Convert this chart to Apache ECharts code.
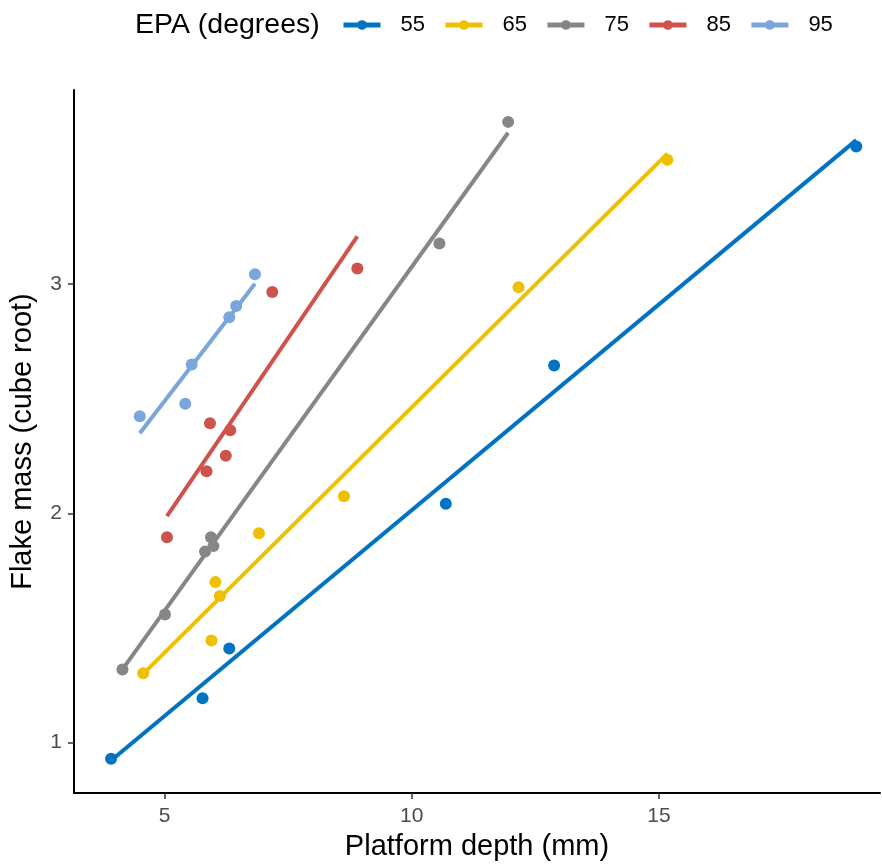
<!DOCTYPE html>
<html>
<head>
<meta charset="utf-8">
<title>Flake mass vs platform depth</title>
<script src="https://cdn.jsdelivr.net/npm/echarts@6/dist/echarts.min.js"></script>
<style>
  html, body { margin: 0; padding: 0; background: #fff; }
  #chart { width: 882px; height: 866px; }
</style>
</head>
<body>
<div id="chart"></div>
<script>
// Exterior platform angle groups (degrees)
const groups = ['55', '65', '75', '85', '95'];
const groupColors = ['#0073C2', '#EFC000', '#868686', '#CD534C', '#7AA6DC'];

// Platform depth (mm) per flake, by EPA group
const depth55 = [3.92, 5.77, 6.31, 10.69, 12.88, 18.99];
const depth65 = [4.57, 5.95, 6.12, 6.03, 6.91, 8.63, 12.16, 15.17];
const depth75 = [4.15, 5.01, 5.82, 5.99, 5.94, 10.56, 11.95];
const depth85 = [5.05, 5.92, 6.33, 6.24, 5.85, 7.18, 8.90];
const depth95 = [4.50, 5.42, 5.55, 6.31, 6.45, 6.83];

// Flake mass (cube root) per flake, by EPA group
const mass55 = [0.930, 1.194, 1.411, 2.042, 2.645, 3.600];
const mass65 = [1.303, 1.445, 1.639, 1.700, 1.913, 2.074, 2.986, 3.542];
const mass75 = [1.319, 1.559, 1.833, 1.857, 1.896, 3.177, 3.707];
const mass85 = [1.896, 2.393, 2.362, 2.251, 2.184, 2.965, 3.068];
const mass95 = [2.423, 2.478, 2.649, 2.855, 2.904, 3.043];

// Axis tick values
const xTicks = [5, 10, 15];
const yTicks = [1, 2, 3];

const depths = [depth55, depth65, depth75, depth85, depth95];
const masses = [mass55, mass65, mass75, mass85, mass95];

// Ordinary least-squares fit, evaluated across the group's depth range
function lmLine(xs, ys) {
  const n = xs.length;
  const mx = xs.reduce((a, b) => a + b, 0) / n;
  const my = ys.reduce((a, b) => a + b, 0) / n;
  let sxy = 0, sxx = 0;
  for (let i = 0; i < n; i++) {
    sxy += (xs[i] - mx) * (ys[i] - my);
    sxx += (xs[i] - mx) * (xs[i] - mx);
  }
  const b = sxy / sxx;
  const a = my - b * mx;
  const lo = Math.min(...xs), hi = Math.max(...xs);
  return [[lo, a + b * lo], [hi, a + b * hi]];
}

const FONT = 'Liberation Sans, Arial, Helvetica, sans-serif';

const series = [];
groups.forEach((g, i) => {
  series.push({
    name: g,
    type: 'line',
    data: lmLine(depths[i], masses[i]),
    showSymbol: false,
    symbol: 'circle',
    lineStyle: { color: groupColors[i], width: 4 },
    itemStyle: { color: groupColors[i] },
    silent: true,
    z: 2
  });
});
groups.forEach((g, i) => {
  series.push({
    name: g,
    type: 'scatter',
    data: depths[i].map((d, k) => [d, masses[i][k]]),
    symbol: 'circle',
    symbolSize: 12,
    itemStyle: { color: groupColors[i], opacity: 1 },
    z: 3
  });
});

const chart = echarts.init(document.getElementById('chart'), null, { renderer: 'canvas' });
chart.setOption({
  animation: false,
  backgroundColor: '#ffffff',
  textStyle: { fontFamily: FONT },
  title: {
    text: 'EPA (degrees)',
    left: 130,
    top: 6,
    textStyle: { fontFamily: FONT, fontSize: 28.5, fontWeight: 'normal', color: '#000' }
  },
  legend: {
    data: groups,
    left: 336,
    top: 9,
    orient: 'horizontal',
    itemWidth: 37,
    itemHeight: 12,
    itemGap: 18,
    lineStyle: { width: 5 },
    textStyle: { fontFamily: FONT, fontSize: 22, color: '#000', padding: [2, 0, 0, 15] }
  },
  grid: { left: 74, right: 2, top: 90, bottom: 72, containLabel: false },
  xAxis: {
    type: 'value',
    min: 3.17,
    max: 19.47,
    name: 'Platform depth (mm)',
    nameLocation: 'middle',
    nameGap: 38,
    nameTextStyle: { fontFamily: FONT, fontSize: 29, color: '#000' },
    axisLine: { show: true, onZero: false, lineStyle: { color: '#000', width: 2 } },
    axisTick: { show: true, length: 6, customValues: xTicks, lineStyle: { color: '#333', width: 1.5 } },
    axisLabel: { customValues: xTicks, margin: 13, fontFamily: FONT, fontSize: 21, color: '#4D4D4D' },
    splitLine: { show: false }
  },
  yAxis: {
    type: 'value',
    min: 0.78,
    max: 3.846,
    name: 'Flake mass (cube root)',
    nameLocation: 'middle',
    nameGap: 37,
    nameRotate: 90,
    nameTextStyle: { fontFamily: FONT, fontSize: 29, color: '#000' },
    axisLine: { show: true, onZero: false, lineStyle: { color: '#000', width: 2 } },
    axisTick: { show: true, length: 6, customValues: yTicks, lineStyle: { color: '#333', width: 1.5 } },
    axisLabel: { customValues: yTicks, margin: 12, fontFamily: FONT, fontSize: 21, color: '#4D4D4D' },
    splitLine: { show: false }
  },
  series: series
});
</script>
</body>
</html>
